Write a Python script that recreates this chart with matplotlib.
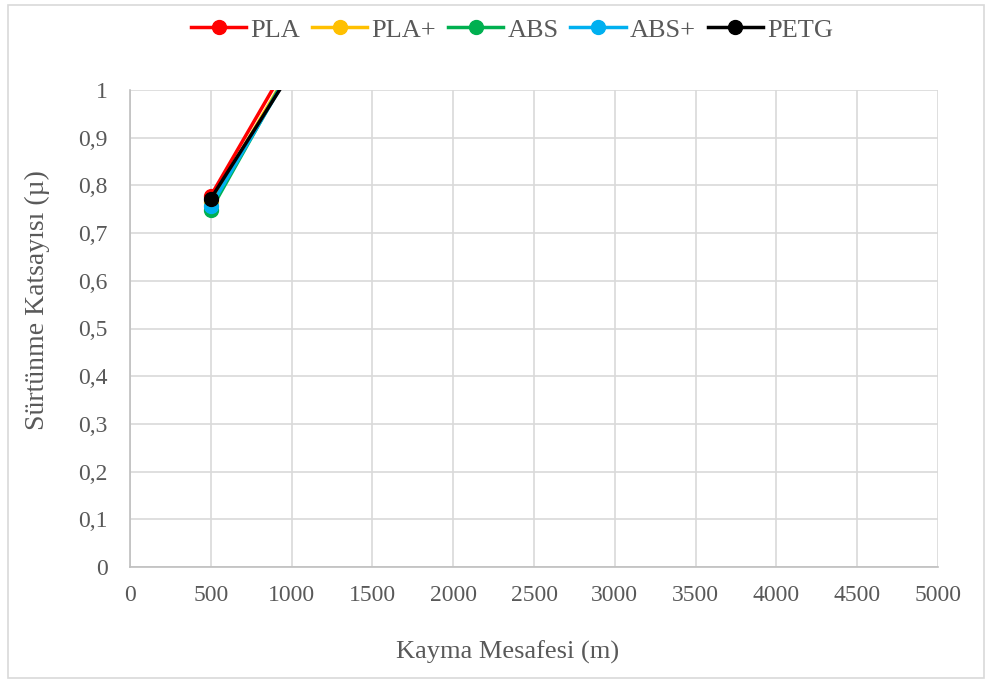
import matplotlib.pyplot as plt
from matplotlib.patches import Rectangle
from matplotlib.ticker import FuncFormatter

plt.rcParams["font.family"] = ["Liberation Serif", "DejaVu Serif"]

distance = [500, 1000]
series_names = ["PLA", "PLA+", "ABS", "ABS+", "PETG"]
pla = [0.778, 1.07]
pla_plus = [0.765, 1.05]
abs_ = [0.748, 1.05]
abs_plus = [0.756, 1.045]
petg = [0.772, 1.04]
colors = ["#ff0000", "#ffc000", "#00b050", "#00b0f0", "#000000"]

W, H = 987, 683
fig = plt.figure(figsize=(W / 100, H / 100), dpi=100)
fig.patches.append(Rectangle((8 / W, 5 / H), 976 / W, 673 / H,
                             transform=fig.transFigure, fill=False,
                             edgecolor="#d9d9d9", linewidth=1.2))
ax = fig.add_axes([130 / W, 1 - 567 / H, 808 / W, 477 / H])

for name, vals, c in zip(series_names, [pla, pla_plus, abs_, abs_plus, petg], colors):
    ax.plot(distance, vals, color=c, linewidth=2.5, marker="o",
            markersize=10, label=name)

ax.set_xlim(0, 5000)
ax.set_ylim(0, 1)
ax.set_xticks(range(0, 5001, 500))
ax.set_yticks([i / 10 for i in range(11)])
ax.yaxis.set_major_formatter(FuncFormatter(
    lambda v, p: "0" if v == 0 else ("1" if v == 1 else f"{v:.1f}".replace(".", ","))))
ax.grid(True, color="#d9d9d9", linewidth=1.2)
ax.set_axisbelow(True)
for s in ["top", "right"]:
    ax.spines[s].set_visible(False)
for s in ["left", "bottom"]:
    ax.spines[s].set_color("#bfbfbf")
    ax.spines[s].set_linewidth(1.2)
ax.tick_params(axis="x", length=0, labelsize=17, colors="#595959", pad=13)
ax.tick_params(axis="y", length=0, labelsize=17, colors="#595959", pad=16)

fig.text(508 / W, 1 - 652 / H, "Kayma Mesafesi (m)", fontsize=19,
         color="#595959", ha="center", va="center")
fig.text(37 / W, 1 - 300 / H, "Sürtünme Katsayısı (µ)", fontsize=20,
         color="#595959", ha="center", va="center", rotation=90)

fig.legend(loc="center", bbox_to_anchor=(512 / W, 1 - 30 / H), ncol=5, frameon=False,
           fontsize=19, handlelength=2.1, handletextpad=0.15, columnspacing=0.45,
           labelcolor="#595959", borderpad=0)

fig.savefig("out.png", dpi=100)
